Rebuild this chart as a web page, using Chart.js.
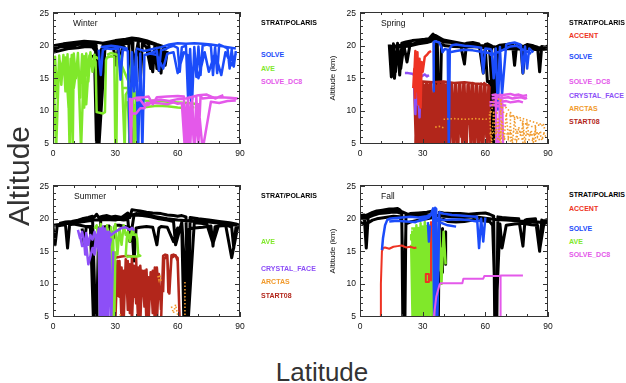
<!DOCTYPE html>
<html>
<head>
<meta charset="utf-8">
<script src="https://cdn.jsdelivr.net/npm/chart.js@4.4.1/dist/chart.umd.min.js"></script>
<style>
  body { margin: 0; background: #fff; width: 626px; height: 383px; position: relative; overflow: hidden; font-family: 'Liberation Sans', Arial, sans-serif; }
  canvas { position: absolute; }
  .lg { position: absolute; font-size: 7px; font-weight: bold; white-space: nowrap; line-height: 8px; }
  .season { position: absolute; font-size: 8.5px; line-height: 10px; color: #111; }
  #ylab { position: absolute; left: 19px; top: 176px; font-size: 30px; color: #333; transform: translate(-50%, -50%) rotate(-90deg); white-space: nowrap; }
  #xlab { position: absolute; left: 322px; top: 372px; font-size: 26px; color: #333; transform: translate(-50%, -50%); white-space: nowrap; }
</style>
</head>
<body>
<canvas id="cWinter" width="235" height="165" style="left:15px;top:0px"></canvas>
<canvas id="cSpring" width="238" height="165" style="left:320px;top:0px"></canvas>
<canvas id="cSummer" width="235" height="165" style="left:15px;top:173px"></canvas>
<canvas id="cFall" width="238" height="165" style="left:320px;top:173px"></canvas>
<div id="ylab">Altitude</div>
<div id="xlab">Latitude</div>
<script>
// axis ticks
const latTicks = [0, 30, 60, 90];
const latMinor = [0, 10, 20, 30, 40, 50, 60, 70, 80, 90];
const altTicks = [5, 10, 15, 20, 25];
const altMinor = [5, 6, 7, 8, 9, 10, 11, 12, 13, 14, 15, 16, 17, 18, 19, 20, 21, 22, 23, 24, 25];

// ---- Winter ----
const winterPolarisLat = [
  [0,3,6,10,14,18,20,21,21.5,22,22.5,24,28,32,35,36.5,37,37.5,38.5,40,43,46,48,49,50,51,52,53,54,55],
  [0,4,8,12,16,19,20.5,21.2,22,25,29,33,36,38,39,41,42,43,45,47,49,51,53,55],
  [0,5,10,15,20,24,30,35,38,41,45,50,54],
  [29,30.5,31.5,32.5,33.5,35],
  [19,20,21,21.8,23],
  [0,6,12,18,20.8,21.6,24,30,36,40,44,48,52,55]
];
const winterPolarisAlt = [
  [19.4,19.8,19.9,20.1,20.3,20.2,20.0,19.5,4,4,19.0,19.8,20.3,20.6,20.9,20.7,4,4,20.8,21.0,20.7,20.3,16.0,20.0,16.5,19.8,15.8,19.6,17.0,19.2],
  [19.0,19.3,19.6,19.7,19.9,19.8,19.2,4,4,19.6,20.0,20.2,20.4,20.5,17.0,20.6,14.5,20.3,19.8,16.5,19.6,16.2,19.3,18.8],
  [20.0,20.3,20.5,20.7,20.6,20.4,20.8,21.0,21.2,21.1,20.8,20.2,19.8],
  [19.8,17.0,19.9,16.5,20.0,19.6],
  [18.6,18.0,4,4,18.5],
  [19.7,20.0,20.2,20.4,20.1,4,20.0,20.4,20.7,20.9,20.6,20.3,19.9,19.5]
];
const winterSolveLat = [
  [22,22.5,23,24,26,28,30,31.5,32.5,33.5,35,36,37,38,39,40,41,42,43,44,46,48,50,51,52,54,56,58,60,61,62,64,65,66,67,68,69,70,71,72,74,76,77,78,79,80,82,84,85,86,87,88],
  [40,44,48,52,56,60,64,68,72,76,80,84,88],
  [44,47,50,53,55,58,60,63,65,66.5,68,70,73,75,78,81,83,86,88],
  [23,25,28,31,34,36]
];
const winterSolveAlt = [
  [19.4,17.0,15.5,19.4,19.6,19.5,19.6,19.5,14.8,19.3,19.4,19.2,4,19.0,13.0,19.2,4,18.8,4,18.6,18.8,19.0,19.2,16.2,19.3,19.5,19.8,20.0,19.7,16.0,19.8,20.0,12.0,19.5,11.8,19.8,15.2,19.9,15.5,20.0,20.2,20.0,15.5,19.8,15.8,20.2,19.9,19.6,16.5,19.4,16.8,19.2],
  [19.6,19.2,19.5,19.8,20.2,20.4,20.3,20.4,20.3,20.2,20.0,19.8,19.6],
  [18.6,18.8,18.6,16.5,18.8,19.0,15.8,19.0,18.5,11.5,18.8,15.0,19.0,16.0,18.9,15.5,19.0,17.0,18.8],
  [19.8,19.9,20.0,19.9,19.7,19.5]
];
const winterAveLat = [
  [0,0.5,1,2,3,4,5,6,7,8,9,9.5,10,11,12,13,14,15,16,17,18,19,20],
  [0,1.5,3,4.5,6,7.5,8.5,10,12,13.5,15,16,17.5,19,20.5,22],
  [20,20.5,21,24,25,25.5,26,28,29.5,30,30.5,31,32],
  [26,28,30,32,33,34.5,35,36,37,38,39,40],
  [31,33,35,37,39,40],
  [34,36,38,40,40.5,41,43,45,50,55,60,65,70],
  [36,37,38,40,45,50,55,60,65,68]
];
const winterAveAlt = [
  [18.0,11.0,18.3,12.0,18.5,14.0,18.6,13.0,18.7,4,18.6,4,18.8,15.0,18.9,12.0,18.7,10.5,18.8,14.5,19.0,16.0,18.8],
  [17.5,4,18.0,16.0,18.2,10.5,18.0,13.5,18.2,4,18.4,11.0,18.5,17.0,18.3,18.0],
  [18.0,17.5,9.8,9.6,9.8,17.8,18.2,18.4,18.3,4,4,18.2,18.5],
  [18.6,18.9,18.7,18.5,17.0,4,12.5,13.0,16.0,17.8,4,13.0],
  [18.5,17.0,15.5,14.0,12.5,11.8],
  [13.5,13.5,12.8,12.8,4,12.0,11.8,11.5,11.6,11.4,11.3,11.2,11.0],
  [11.5,4,11.0,10.8,10.6,10.8,10.7,10.5,10.4,10.6]
];
const winterDc8Lat = [
  [37,37.5,38,40,44,46,48,50,55,60,63,64,65,66,67,68,69,70,71,72,75,80,85,89],
  [38,40,42,44,45,50,55,58,60,62,63.5,64.5,65.5,66.5,68,70,72,76,80,84,88],
  [40,42,44,46,48,52,56,60,64,70,74,78,82]
];
const winterDc8Alt = [
  [12.0,4,11.8,12.0,12.1,12.2,11.0,12.1,12.2,12.3,12.2,4,12.0,4,11.8,4,12.1,5.0,12.2,11.9,12.0,12.1,12.0,11.9],
  [9.6,9.6,10.4,10.4,11.2,11.2,11.0,11.3,11.1,11.2,4,11.0,4,11.3,4,11.0,4,11.4,11.2,11.5,11.6],
  [11.6,11.7,10.8,10.9,11.6,11.7,11.5,11.8,11.9,12.4,12.5,11.9,12.4]
];

// ---- Spring ----
const springPolarisLat = [
  [14,15,16,17,18,19,20,22,25,28,31,33,35,36,37,38,40,44,48,50,51,54,57,59,60,61,63,64,65,67,70,73,74,75,77,78,79,80,83,85,86,87,89,90],
  [14,16,18,20,24,28,32,34,35.5,36,36.5,37,38,39,41,45,50,55,60,62,63,63.5,66,70,75,80,85,90],
  [60,61,62,62.5,63,64,64.5],
  [15,16.5,18,19.5,21,22.5,24],
  [14,20,25,30,34,36,40,45,50,55,60,65,70,75,80,85,90]
];
const springPolarisAlt = [
  [20.2,15.2,20.3,16.0,20.4,15.5,20.4,20.6,20.8,20.9,21.0,21.1,21.8,21.4,21.0,20.8,20.6,20.5,20.4,17.2,20.4,20.5,20.3,15.8,20.2,20.3,20.0,4,19.8,20.1,20.2,20.3,17.0,20.2,20.1,15.8,20.0,20.2,20.0,19.8,16.0,19.9,19.8,20.0],
  [19.6,19.8,19.9,19.8,20.0,20.3,20.5,20.7,21.5,4,4,20.5,4,20.2,20.0,19.9,19.8,19.9,19.7,19.6,14.0,4,19.4,19.6,19.5,19.6,19.4,19.5],
  [19.5,14.5,14.5,10.5,10.4,8.0,7.5],
  [19.8,15.0,19.9,16.5,20.1,17.5,20.3],
  [19.9,20.1,20.3,20.6,21.0,21.6,20.9,20.6,20.3,20.1,20.0,19.8,19.9,20.0,19.9,19.7,19.8]
];
const springAccentLat = [
  [26,26.5,27,27.5,28,28.5,29,29.5,30,31,32,33,34],
  [25.5,26,26.5,27,28,29]
];
const springAccentAlt = [
  [15.5,19.2,13.0,19.0,11.0,18.0,10.5,17.5,16.0,18.3,18.6,19.0,19.2],
  [13.5,16.5,12.0,17.5,15.0,14.5]
];
const springSolveLat = [
  [35.0,35.3,36,38,39,39.5,40.5,42,42.5,43,44,46,50,54,58,59,60,62,63],
  [63,64,65,66,67,68,70,72,74,76,77,78,79,80,81,82,83],
  [62,64,66,68,70,72,75,78,82],
  [43,46,50,54,58,62,64]
];
const springSolveAlt = [
  [13.0,20.6,20.7,20.5,19.8,19.0,19.5,19.4,4,19.6,20.1,20.2,20.0,19.9,19.7,15.8,19.6,19.5,19.4],
  [19.4,15.0,19.6,10.2,19.8,12.5,20.2,20.4,20.5,20.3,20.1,15.8,19.9,16.5,19.6,19.3,19.0],
  [18.6,18.8,19.0,19.3,19.6,19.9,20.0,19.4,18.8],
  [19.0,19.2,19.4,19.3,19.1,18.9,18.5]
];
const springDc8Lat = [
  [63,65,66,67,68,70,72,74,76,78,80],
  [63,65,67,69,71,73,75,77,79,80],
  [62,64,66,68,70,72,74,76,78],
  [62,64,66,68,70],
  [65,65.5,66.5,67,68,68.5]
];
const springDc8Alt = [
  [12.4,12.5,12.3,12.5,12.4,12.5,12.6,12.4,12.5,12.3,12.4],
  [11.9,12.0,11.8,12.0,12.1,11.9,12.0,12.1,11.9,12.0],
  [11.3,11.4,11.2,11.4,11.5,11.3,11.4,11.5,11.3],
  [10.8,10.9,10.7,10.9,10.8],
  [12.3,4,4,12.0,12.2,4]
];
const springCrystalLat = [
  [21.5,23,25,26,26.5,27,27.5,28,28.5,29,30,31,32,33]
];
const springCrystalAlt = [
  [15.8,15.8,15.7,15.5,9.5,15.0,11.0,12.5,9.0,15.2,15.4,15.6,15.3,15.5]
];
const springArctasLat = [
  [66,67,68,70,72,73,75,77,78,80,82,83,85,87,88,90],
  [40,45,50,55,60,62,63,64],
  [62,63,64,65,66,67,68,69,70,71,72,73,74,75,76,77,78,79,80,81,82,83,84,85,86,87,88,89],
  [62,66,70,74,78,82,86,90],
  [36,38,40],
  [67.5,67.5],
  [62,65,68,71,74,77,80,83,86,89],
  [72,72],
  [78,78],
  [84,84],
  [64,68,72,76,80,84,88]
];
const springArctasAlt = [
  [11.8,11.8,10.5,10.5,9.8,9.0,9.0,8.5,8.0,8.0,7.6,7.6,7.8,7.8,7.4,7.4],
  [8.7,8.8,8.7,8.8,8.7,8.8,10.0,11.5],
  [9.5,5,10,6,9.0,5,8.5,5.5,9.5,6,7.8,5,8.8,5.5,7.5,6,8.2,5,7.9,6,7.0,5.2,7.2,6,6.8,5.5,6.5,6],
  [6.5,6.8,6.4,6.9,6.6,6.3,6.7,6.5],
  [7.5,7.6,7.4],
  [11.8,4],
  [9.8,9.6,9.9,9.4,9.2,8.9,8.6,8.3,8.0,7.8],
  [9.8,4],
  [8.5,4],
  [7.6,4],
  [5.6,5.8,5.5,5.7,5.6,5.4,5.8]
];
const springStart08Lat = [
  [26.5,27,27.5,28,29,30,31,32,33,34,35,36,37,38,39,40,41,42,43,44,45,46,47,48,49,50,51,52,53,54,55,56,57,58,59,60,61,62],
  [27.2,27.8,28.5,29.5,30.5,31.5,32.5,33.5,34.5,35.5,36.5,37.5,38.5,39.5,40.5,41.5,42.5,43.5,44.5,45.5,46.5,47.5,48.5,49.5,50.5,51.5,52.5,53.5,54.5,55.5,56.5,57.5,58.5,59.5,60.5,61.5,62.5],
  [27,30,35,40,45,50,55,60,62],
  [26,26.8,27.6,28.4,29.2,30,30.8,31.6,32.4,33.2,34,34.8,35.6,36.4,37.2,38,38.8,39.6,40.4,41.2,42]
];
const springStart08Alt = [
  [4,14.2,4,14.3,4,14.4,4,14.3,4,14.4,4,14.3,4,14.2,4,14.3,4,14.4,4,14.3,4,14.3,4,14.2,4,14.3,4,14.2,4,14.3,4,14.1,4,14.2,4,14.0,4,13.8],
  [4,14.0,5,14.1,4,14.2,6,14.3,4,14.1,5,14.2,4,14.4,7,14.2,4,14.3,5,14.1,4,14.2,6,14.3,4,14.0,8,14.2,4,14.1,5,14.0,4,14.3,6,13.9,4],
  [14.3,14.5,14.4,14.5,14.3,14.4,14.2,14.1,13.8],
  [13.5,4,13.8,4,14.0,4,13.9,4,14.0,4,14.1,4,14.0,4,13.9,4,14.0,4,14.1,4,13.9]
];

// ---- Summer ----
const summerPolarisLat = [
  [0,1,2,4,6,7,8,10,13,16,19,20,21,22,24,27,29,30,32,35,38,39,40,42,45,48,50,51,52,55,58,60,62,63,64,65,66,68,72,76,77,78,80,84,86,87,88,90],
  [14,16,18,20,21,22,24,26,28,30,33,36,37,38,40,42,45,48,52,55,58,60,62,64,65,66,70,75,80,85,88,90],
  [3,6,9,12,14,17,19,20.5,21.5,23,26,30,34,36,37,39,43,47,51,55,58,59,62,65,68,71,74,77,80,83,86,89],
  [14,15,16,18,19.5,21,22],
  [0,5,10,15,20,25,30,35,40,45,50,55,60,65,70,75,80,85,90]
];
const summerPolarisAlt = [
  [18.8,16.0,18.9,19.0,19.1,15.5,19.1,19.2,19.0,18.8,18.8,4,4,18.6,18.7,18.9,17.0,19.0,19.0,18.8,18.6,13.5,18.6,18.7,18.8,18.7,16.0,18.6,18.8,18.7,16.5,18.6,18.4,4,4,18.3,18.5,18.6,18.7,18.9,15.8,18.8,18.9,19.0,18.7,15.5,18.6,19.0],
  [19.5,19.9,20.1,20.3,20.7,20.2,20.4,20.5,20.3,20.4,20.2,20.9,20.2,21.4,21.3,21.2,21.0,20.9,20.8,20.6,20.5,20.4,20.5,20.3,4,20.2,20.0,19.8,19.6,19.4,19.2,19.0],
  [19.3,19.5,19.6,19.8,20.0,20.2,20.4,4,4,20.0,20.1,20.0,19.8,19.9,16.5,20.6,20.5,20.3,20.0,19.8,19.6,16.0,19.5,4,19.4,19.3,19.2,16.2,19.3,19.2,14.0,18.9],
  [18.5,16.2,18.7,18.8,4,4,18.5],
  [19.0,19.2,19.4,19.6,19.8,19.9,19.8,20.2,20.8,20.6,20.3,20.0,19.8,19.7,19.6,19.5,19.3,19.1,19.0]
];
const summerAveLat = [
  [20,21,22,23,23.5,24,25,26,27,28,28.5,29,30,31,32,33,34,35,36,37,38,39],
  [35,35.5,36,40,40.5,41,42,40.5,36,35.5],
  [22,22.5,23,29,29.5,30]
];
const summerAveAlt = [
  [18.5,19.0,17.0,19.2,4,18.5,15.5,19.0,16.0,18.7,4,17.5,19.2,14.5,18.5,16.0,19.0,17.5,18.0,16.5,18.2,17.8],
  [14.2,17.0,17.5,17.6,17.0,14.5,14.3,14.2,14.2,14.0],
  [17,4,16,17,4,15]
];
const summerCrystalLat = [
  [12,13,14,15,15.5,16,17,18,19,20,21,22,22.5,23,24,24.5,25,26,26.5,27,28],
  [13,14,16,17,19,20,21,22,23,23.5,24,25,25.5,26,27,28,29],
  [20,21,22,23,24,25,26,27,28,30,33,35,37,38,39]
];
const summerCrystalAlt = [
  [18.3,17.0,18.0,16.5,14.5,17.8,16.0,17.5,16.8,18.0,16.5,18.5,4,17.0,18.8,4,16.5,18.0,4,15.5,17.0],
  [17.5,15.8,16.0,13.0,15.5,14.5,17.0,15.0,16.0,4,15.5,17.0,4,16.0,18.0,4,15.0],
  [15.5,17.5,16.0,18.5,17.0,18.5,15.0,18.0,17.5,18.0,18.6,18.7,18.3,18.6,18.2]
];
const summerArctasLat = [
  [63.5,63.5],
  [50.5,51,51.5,52],
  [57,58,59,60],
  [32,33]
];
const summerArctasAlt = [
  [10.3,4],
  [11.2,10.6,11.4,10.4],
  [6.5,5.5,6.8,5.2],
  [5.2,5.3]
];
const summerStart08Lat = [
  [28,28.5,29,30,33,36,39,40,40.5,41],
  [30,31,32,33,34,35,36,37,38,39,40,41,42,43,44,45,46,47,48,49,50,51,52],
  [52,53,54,55,56,57,58,59,60,61,62],
  [53,53.5,55,55.5,56,57,59,60,60.5,61],
  [31,32,33,34,35,36,37,38,39,40,41,42,43,44,45,46,47,48,49,50,51]
];
const summerStart08Alt = [
  [4,8.7,13.8,14.0,14.2,14.3,14.2,14.0,9.0,4],
  [4,13.5,8,12.5,4,13.8,6,13.0,4,12.8,7,12.5,4,12.0,6.5,12.2,4,11.8,5.5,12.5,4,11.5,6],
  [4,14.3,14.5,14.4,8.5,14.4,14.5,14.3,14.0,4,4],
  [8.7,13.8,14.3,8.7,8.7,14.0,14.4,13.5,8.7,4],
  [8,13.5,4,12.0,9.5,13.5,5.5,14.0,8,11.5,4,12.8,8.5,12.0,4,11.0,8,12.0,4,12.5,8]
];

// ---- Fall ----
const fallPolarisLat = [
  [0,2,3,4,6,8,10,12,14,16,18,19,20,20.5,21.5,22,24,28,32,35,36,37,37.5,38,40,44,48,52,56,60,62,64,64.5,65.5,66,68,72,76,78,79,80,84,86,87,88,90],
  [0,2,4,6,8,12,16,19,20,21,22,24,28,32,35,36,37,38,40,42,46,50,54,58,62,63.5,65,67,68,70,74,78,82,85,86,88,90],
  [0,3,6,9,12,15,18,20],
  [39.5,39.5],
  [41,41],
  [0,5,10,15,20,25,30,35,40,45,50,55,60,65,70,75,80,85,90]
];
const fallPolarisAlt = [
  [20.5,20.6,15.5,20.7,21.0,21.2,21.3,21.4,21.5,21.5,21.6,21.4,21.0,4,4,20.6,20.8,20.9,21.0,21.2,21.3,4,4,21.0,20.9,20.8,20.8,20.7,20.8,20.9,20.7,20.4,4,4,20.3,20.2,20.1,20.0,15.8,19.8,19.9,20.0,15.0,19.8,19.7,19.9],
  [19.5,19.2,19.4,19.8,20.0,20.2,20.4,20.3,19.5,4,19.2,19.5,19.8,20.0,20.2,19.5,4,19.8,19.9,19.6,19.5,19.6,19.8,19.7,19.6,19.0,4,19.2,15.5,19.0,19.2,19.3,19.1,19.0,15.2,19.2,19.5],
  [20.0,20.1,20.5,20.8,20.9,21.0,21.0,20.8],
  [18.5,11.8],
  [18.0,13.0],
  [20.2,20.8,21.0,21.2,21.1,20.4,20.5,20.6,20.4,20.3,20.2,20.3,20.1,19.9,19.8,19.7,19.6,19.5,19.4]
];
const fallAccentLat = [
  [9.8,10,10.5,11,12,14,16,18,20,22,24,26,27],
  [31.5,31.5,33,33,31.5],
  [34,34]
];
const fallAccentAlt = [
  [4,10,15.0,15.5,15.6,15.4,15.7,15.8,15.9,15.6,15.7,15.5,15.6],
  [11.5,10.3,10.3,11.5,11.5],
  [19.5,10.5]
];
const fallSolveLat = [
  [10.5,11,12,13,14,16,20,24,28,32,34,35,35.5,36,36.5,37,38,40,44,48,52,56,57,58,59,60],
  [14,18,22,26,30,33,35,37,40,44,48,52,56,58],
  [26,30,34,35],
  [35,38,42,46],
  [32.5,33,33.5]
];
const fallSolveAlt = [
  [15.2,17.0,19.0,19.8,20.0,20.1,20.2,20.3,20.2,20.4,20.7,21.6,4,21.7,21.5,4,21.0,20.8,20.6,20.5,20.4,20.3,15.5,20.0,16.5,20.2],
  [19.6,19.7,19.6,19.5,19.8,20.2,21.0,20.0,19.8,19.9,19.9,19.8,19.6,19.8],
  [19.4,20.0,20.6,21.2],
  [20.8,19.5,19.0,18.8],
  [19.5,16.5,19.0]
];
const fallAveLat = [
  [25,25.5,26,26.5,27,27.5,28,28.5,29,29.5,30,30.5,31,31.5,32,32.5,33,33.5,34,34.5,35,35.5,36],
  [24.5,25.2,25.8,26.2,26.8,27.2,27.8,28.2,28.8,29.2,29.8,30.2,30.8,31.2,31.8,32.2,32.8,33.2,33.8,34.2,34.8,35.2,35.8,36.5,37.5,38.5,39.5,40.5],
  [24.5,29,29,24.5,24.5,29,29,24.5],
  [36,37,38,39,40,41]
];
const fallAveAlt = [
  [18.2,6,18.5,4,19.0,5,18.6,4,19.3,6,18.8,4,19.5,7,18.9,4,19.0,8,18.5,5,18.3,9,18.0],
  [16,4,17,5,16.5,4,17.5,5,18,4,17,6,18,4,17.5,5,17,4,16.5,9,17,6,16,10,16.5,12,15.5,14.5],
  [18.5,18.5,17.5,17.5,16.8,16.8,16,16],
  [18.5,12,18.2,10,18,13]
];
const fallDc8Lat = [
  [35,36.5,38,38.5,40,45,49,49.5,55,59,59.5,63,67,67.5,70,75,78],
  [67.3,67.3]
];
const fallDc8Alt = [
  [4,8,9.8,10.1,10.1,10.1,10.1,10.8,10.8,10.8,11.2,11.2,11.2,11.3,11.3,11.3,11.3],
  [11.2,4]
];

const colors = {
  polaris: '#000000',
  accent: '#ee3323',
  solve: '#1b4cfa',
  ave: '#80e82a',
  dc8: '#e459ea',
  crystal: '#8d4ff7',
  arctas: '#f19a2c',
  start08: '#b2261b'
};

Chart.defaults.font.family = "'Liberation Sans', Arial, sans-serif";
Chart.defaults.color = '#111';

function toPoints(lat, alt) {
  const pts = [];
  lat.forEach((track, t) => {
    if (t > 0) pts.push({ x: null, y: null });
    track.forEach((v, i) => pts.push({ x: v, y: alt[t][i] }));
  });
  return pts;
}

function series(lat, alt, color, extra) {
  return Object.assign({
    data: toPoints(lat, alt),
    borderColor: color,
    borderWidth: 2.5,
    pointRadius: 0,
    clip: 0,
    spanGaps: false,
    tension: 0,
    borderJoinStyle: 'round'
  }, extra || {});
}

const dotted = { borderWidth: 1.6, borderDash: [1.5, 2], borderJoinStyle: 'miter' };
const heavy = { borderWidth: 3 };

// frame with inward ticks on all four sides
const frame = {
  id: 'frame',
  afterDatasetsDraw(chart) {
    const { ctx, chartArea: a, scales: { x, y } } = chart;
    ctx.save();
    ctx.strokeStyle = '#333';
    ctx.lineWidth = 1;
    ctx.strokeRect(a.left + 0.5, a.top + 0.5, a.right - a.left - 1, a.bottom - a.top - 1);
    ctx.beginPath();
    latMinor.forEach(v => {
      const px = Math.round(x.getPixelForValue(v)) + 0.5;
      const len = latTicks.includes(v) ? 5 : 3;
      ctx.moveTo(px, a.bottom); ctx.lineTo(px, a.bottom - len);
      ctx.moveTo(px, a.top); ctx.lineTo(px, a.top + len);
    });
    altMinor.forEach(v => {
      const py = Math.round(y.getPixelForValue(v)) + 0.5;
      const len = altTicks.includes(v) ? 5 : 3;
      ctx.moveTo(a.left, py); ctx.lineTo(a.left + len, py);
      ctx.moveTo(a.right, py); ctx.lineTo(a.right - len, py);
    });
    ctx.stroke();
    ctx.restore();
  }
};

function makePanel(id, datasets, yWidth, showTitle) {
  new Chart(document.getElementById(id), {
    type: 'line',
    data: { datasets: datasets.slice().reverse() },
    options: {
      animation: false,
      responsive: false,
      events: [],
      layout: { padding: { top: 12, right: 10, left: 0, bottom: 0 } },
      plugins: { legend: { display: false }, tooltip: { enabled: false } },
      scales: {
        x: {
          type: 'linear', min: 0, max: 90,
          afterBuildTicks: s => { s.ticks = latTicks.map(v => ({ value: v })); },
          afterFit: s => { s.height = 21; },
          grid: { display: false, drawTicks: false },
          border: { display: false },
          ticks: { padding: 5, font: { size: 8.5 }, maxRotation: 0, autoSkip: false }
        },
        y: {
          type: 'linear', min: 4.9, max: 25.2,
          afterBuildTicks: s => { s.ticks = altTicks.map(v => ({ value: v })); },
          afterFit: s => { s.width = yWidth; },
          grid: { display: false, drawTicks: false },
          border: { display: false },
          ticks: { padding: 4, font: { size: 8.5 }, autoSkip: false },
          title: { display: showTitle, text: 'Altitude (km)', font: { size: 8 }, color: '#111', padding: { top: 8, bottom: 0 } }
        }
      }
    },
    plugins: [frame]
  });
}

makePanel('cWinter', [
  series(winterPolarisLat, winterPolarisAlt, colors.polaris, heavy),
  series(winterAveLat, winterAveAlt, colors.ave),
  series(winterSolveLat, winterSolveAlt, colors.solve),
  series(winterDc8Lat, winterDc8Alt, colors.dc8)
], 38, false);

makePanel('cSpring', [
  series(springPolarisLat, springPolarisAlt, colors.polaris, heavy),
  series(springStart08Lat, springStart08Alt, colors.start08),
  series(springCrystalLat, springCrystalAlt, colors.crystal),
  series(springAccentLat, springAccentAlt, colors.accent),
  series(springSolveLat, springSolveAlt, colors.solve),
  series(springDc8Lat, springDc8Alt, colors.dc8),
  series(springArctasLat, springArctasAlt, colors.arctas, dotted)
], 40, true);

makePanel('cSummer', [
  series(summerPolarisLat, summerPolarisAlt, colors.polaris, heavy),
  series(summerStart08Lat, summerStart08Alt, colors.start08),
  series(summerAveLat, summerAveAlt, colors.ave),
  series(summerCrystalLat, summerCrystalAlt, colors.crystal),
  series(summerArctasLat, summerArctasAlt, colors.arctas, dotted)
], 38, false);

makePanel('cFall', [
  series(fallPolarisLat, fallPolarisAlt, colors.polaris, heavy),
  series(fallAveLat, fallAveAlt, colors.ave),
  series(fallAccentLat, fallAccentAlt, colors.accent, { borderWidth: 2 }),
  series(fallSolveLat, fallSolveAlt, colors.solve),
  series(fallDc8Lat, fallDc8Alt, colors.dc8, { borderWidth: 2 })
], 40, true);

// season titles and legends
const seasonTitles = [
  { text: 'Winter', x: 73, y: 23 },
  { text: 'Spring', x: 381, y: 23 },
  { text: 'Summer', x: 74, y: 196 },
  { text: 'Fall', x: 381, y: 196 }
];
const legends = [
  { x: 261, items: [['STRAT/POLARIS', 'polaris', 23], ['SOLVE', 'solve', 55], ['AVE', 'ave', 69], ['SOLVE_DC8', 'dc8', 82]] },
  { x: 569, items: [['STRAT/POLARIS', 'polaris', 23], ['ACCENT', 'accent', 36], ['SOLVE', 'solve', 57], ['SOLVE_DC8', 'dc8', 82], ['CRYSTAL_FACE', 'crystal', 96], ['ARCTAS', 'arctas', 109], ['START08', 'start08', 122]] },
  { x: 261, items: [['STRAT/POLARIS', 'polaris', 196], ['AVE', 'ave', 242], ['CRYSTAL_FACE', 'crystal', 269], ['ARCTAS', 'arctas', 282], ['START08', 'start08', 296]] },
  { x: 569, items: [['STRAT/POLARIS', 'polaris', 195], ['ACCENT', 'accent', 209], ['SOLVE', 'solve', 229], ['AVE', 'ave', 242], ['SOLVE_DC8', 'dc8', 255]] }
];

seasonTitles.forEach(t => {
  const d = document.createElement('div');
  d.className = 'season';
  d.textContent = t.text;
  d.style.left = t.x + 'px';
  d.style.top = (t.y - 5) + 'px';
  document.body.appendChild(d);
});

legends.forEach(lg => {
  lg.items.forEach(([label, key, y]) => {
    const d = document.createElement('div');
    d.className = 'lg';
    d.textContent = label;
    d.style.left = lg.x + 'px';
    d.style.top = (y - 4) + 'px';
    d.style.color = colors[key];
    document.body.appendChild(d);
  });
});
</script>
</body>
</html>
